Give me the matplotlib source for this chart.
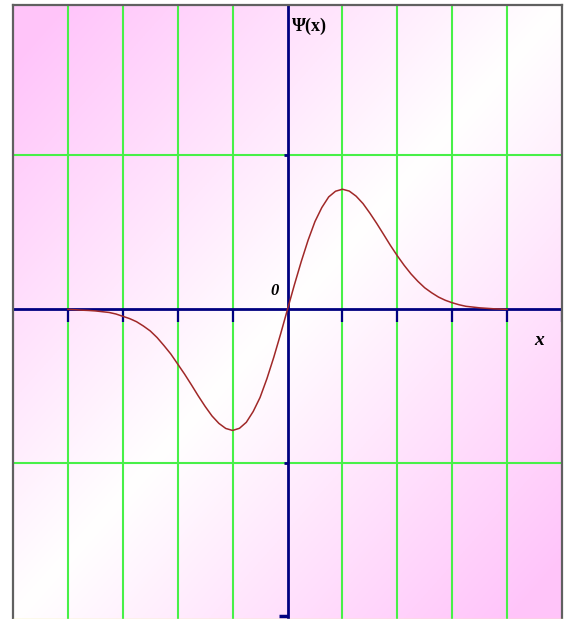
import numpy as np
import matplotlib
matplotlib.use("Agg")
import matplotlib.pyplot as plt

# Values (right half; the left half mirrors it, slightly deeper).
x_right = [0.0, 0.125, 0.25, 0.375, 0.5, 0.625, 0.75, 0.875, 1.0, 1.125, 1.25,
           1.375, 1.5, 1.625, 1.75, 1.875, 2.0, 2.125, 2.25, 2.375, 2.5, 2.625,
           2.75, 2.875, 3.0, 3.125, 3.25, 3.375, 3.5, 3.625, 3.75, 3.875, 4.0]
psi_right = [0.0, 0.159, 0.31, 0.449, 0.57, 0.661, 0.73, 0.767, 0.78, 0.768,
             0.735, 0.687, 0.625, 0.558, 0.487, 0.415, 0.348, 0.286, 0.23,
             0.182, 0.14, 0.108, 0.08, 0.059, 0.043, 0.03, 0.02, 0.015, 0.01,
             0.007, 0.004, 0.002, 0.0]
x_left = [-4.0, -3.875, -3.75, -3.625, -3.5, -3.375, -3.25, -3.125, -3.0,
          -2.875, -2.75, -2.625, -2.5, -2.375, -2.25, -2.125, -2.0, -1.875,
          -1.75, -1.625, -1.5, -1.375, -1.25, -1.125, -1.0, -0.875, -0.75,
          -0.625, -0.5, -0.375, -0.25, -0.125]
psi_left = [0.0, -0.002, -0.005, -0.007, -0.01, -0.015, -0.02, -0.03, -0.045,
            -0.06, -0.08, -0.108, -0.14, -0.183, -0.235, -0.29, -0.355, -0.42,
            -0.49, -0.562, -0.63, -0.692, -0.74, -0.773, -0.786, -0.772,
            -0.733, -0.663, -0.572, -0.45, -0.311, -0.159]
x_vals = x_left + x_right
psi_vals = psi_left + psi_right

x_ticks = [-4, -3, -2, -1, 1, 2, 3, 4, 5]
grid_x = [-4, -3, -2, -1, 1, 2, 3, 4]
grid_y = [-1, 1]

fig = plt.figure(figsize=(5.67, 6.19), dpi=100)
ax = fig.add_axes([13 / 567, 0.0, 549 / 567, 1 - 5 / 619])
xmin, xmax = -5.0, 5.0
ymin, ymax = -2.01, 1.976
ax.set_xlim(xmin, xmax)
ax.set_ylim(ymin, ymax)

# Diagonal pink-white-pink background.
u, v = np.meshgrid(np.linspace(0, 1, 300), np.linspace(0, 1, 300))
t = np.clip(np.abs(u + v - 1.0) * 1.1, 0, 1)
pink = np.array([1.0, 0.77, 0.98])
img = 1.0 - t[..., None] * (1.0 - pink)
ax.imshow(img, extent=[xmin, xmax, ymin, ymax], origin='upper', aspect='auto', zorder=0)

# Green grid.
for gx in grid_x:
    ax.axvline(gx, color='#48f048', lw=1.5, zorder=1)
for gy in grid_y:
    ax.axhline(gy, color='#48f048', lw=1.5, zorder=1)

# Axes and ticks.
ax.axhline(0, color='#000080', lw=2.0, zorder=2)
ax.axvline(0, color='#000080', lw=2.0, zorder=2)
ax.vlines(x_ticks, -0.085, 0, color='#000080', lw=1.6, zorder=2)
ax.hlines(grid_y, -0.06, 0, color='#000080', lw=2.0, zorder=2)
ax.hlines([-1.99], -0.15, 0, color='#000080', lw=2.5, zorder=2)

# Curve.
ax.plot(x_vals, psi_vals, color='#a02828', lw=1.1, zorder=3)

ax.text(0.08, 1.84, 'Ψ(x)', family='Liberation Serif', fontweight='bold',
        fontsize=13, va='center', ha='left', color='black')
ax.text(-0.15, 0.12, '0', family='Liberation Serif', fontweight='bold',
        style='italic', fontsize=12, va='center', ha='right')
ax.text(4.58, -0.2, 'x', family='Liberation Serif', fontweight='bold',
        style='italic', fontsize=14, va='center', ha='center')

ax.set_xticks([])
ax.set_yticks([])
for side in ['left', 'top', 'right']:
    ax.spines[side].set_color('#606060')
    ax.spines[side].set_linewidth(1.6)
ax.spines['bottom'].set_color('#f0f0a0')
ax.spines['bottom'].set_linewidth(1.0)

fig.savefig('out.png', dpi=100)
